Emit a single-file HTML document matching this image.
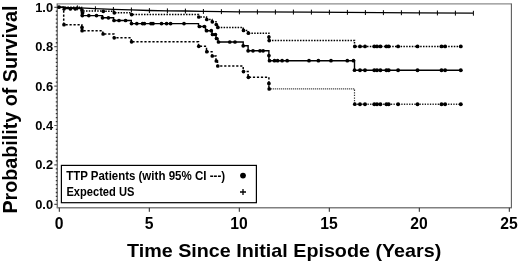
<!DOCTYPE html>
<html><head><meta charset="utf-8"><title>Survival</title>
<style>
html,body{margin:0;padding:0;background:#fff}
svg{display:block;font-family:"Liberation Sans",Arial,sans-serif;font-weight:bold;fill:#000}
</style></head>
<body>
<svg width="520" height="264" viewBox="0 0 520 264">
<rect width="520" height="264" fill="#fff"/>
<path d="M56.699999999999996,3.8H511.9" stroke="#8c8c8c" stroke-width="1.3" fill="none"/>
<path d="M56.699999999999996,207.8H511.9" stroke="#808080" stroke-width="1.4" fill="none"/>
<path d="M57.3,3.8V207.8" stroke="#787878" stroke-width="1.4" fill="none"/>
<path d="M511.4,3.8V207.8" stroke="#5c5c5c" stroke-width="1.1" fill="none"/>
<path d="M55.8,200.36H57.3M55.8,196.42H57.3M55.8,192.48H57.3M55.8,188.54H57.3M55.8,184.60H57.3M55.8,180.66H57.3M55.8,176.72H57.3M55.8,172.78H57.3M55.8,168.84H57.3M55.8,160.96H57.3M55.8,157.02H57.3M55.8,153.08H57.3M55.8,149.14H57.3M55.8,145.20H57.3M55.8,141.26H57.3M55.8,137.32H57.3M55.8,133.38H57.3M55.8,129.44H57.3M55.8,121.56H57.3M55.8,117.62H57.3M55.8,113.68H57.3M55.8,109.74H57.3M55.8,105.80H57.3M55.8,101.86H57.3M55.8,97.92H57.3M55.8,93.98H57.3M55.8,90.04H57.3M55.8,82.16H57.3M55.8,78.22H57.3M55.8,74.28H57.3M55.8,70.34H57.3M55.8,66.40H57.3M55.8,62.46H57.3M55.8,58.52H57.3M55.8,54.58H57.3M55.8,50.64H57.3M55.8,42.76H57.3M55.8,38.82H57.3M55.8,34.88H57.3M55.8,30.94H57.3M55.8,27.00H57.3M55.8,23.06H57.3M55.8,19.12H57.3M55.8,15.18H57.3M55.8,11.24H57.3" stroke="#333" stroke-width="1.3" fill="none"/>
<path d="M54.3,204.30H57.3M54.3,164.90H57.3M54.3,125.50H57.3M54.3,86.10H57.3M54.3,46.70H57.3M54.3,7.30H57.3" stroke="#555" stroke-width="1.2" fill="none"/>
<path d="M59.3,207.8v4M149.3,207.8v4M239.3,207.8v4M329.3,207.8v4M419.3,207.8v4M509.3,207.8v4" stroke="#222" stroke-width="1" fill="none"/>
<g font-size="13.7"><text x="35.2" y="208.7" textLength="17.9" lengthAdjust="spacingAndGlyphs">0.0</text><text x="35.2" y="169.3" textLength="17.9" lengthAdjust="spacingAndGlyphs">0.2</text><text x="35.2" y="129.9" textLength="17.9" lengthAdjust="spacingAndGlyphs">0.4</text><text x="35.2" y="90.5" textLength="17.9" lengthAdjust="spacingAndGlyphs">0.6</text><text x="35.2" y="51.1" textLength="17.9" lengthAdjust="spacingAndGlyphs">0.8</text><text x="35.2" y="11.7" textLength="17.9" lengthAdjust="spacingAndGlyphs">1.0</text></g>
<g font-size="15.7"><text x="59.0" y="229.2" text-anchor="middle">0</text><text x="149.0" y="229.2" text-anchor="middle">5</text><text x="239.0" y="229.2" text-anchor="middle">10</text><text x="329.0" y="229.2" text-anchor="middle">15</text><text x="419.0" y="229.2" text-anchor="middle">20</text><text x="509.0" y="229.2" text-anchor="middle">25</text></g>
<text font-size="18.6" x="127.0" y="256.8" textLength="314.2" lengthAdjust="spacingAndGlyphs">Time Since Initial Episode (Years)</text>
<text font-size="19.6" transform="translate(16.5,213.6) rotate(-90)" textLength="208" lengthAdjust="spacingAndGlyphs">Probability of Survival</text>
<path d="M59.0,7.3 L80.0,7.9 L95.0,8.7 L113.0,9.4 L131.0,9.9 L149.0,10.5 L167.0,10.8 L185.0,11.0 L203.0,11.4 L239.0,11.8 L309.0,12.1 L416.0,12.8 L473.0,13.2" stroke="#000" stroke-width="1.3" fill="none"/>
<path d="M77.4,5.4v4.9M95.4,6.3v4.9M113.4,7.0v4.9M131.4,7.5v4.9M149.4,8.1v4.9M167.4,8.4v4.9M185.4,8.6v4.9M203.4,9.0v4.9M221.4,9.2v4.9M239.4,9.4v4.9M257.4,9.5v4.9M275.4,9.6v4.9M293.4,9.6v4.9M311.4,9.7v4.9M329.4,9.8v4.9M347.4,9.9v4.9M365.4,10.1v4.9M383.4,10.2v4.9M401.4,10.3v4.9M419.4,10.4v4.9M437.4,10.5v4.9M455.4,10.7v4.9M473.4,10.8v4.9" stroke="#000" stroke-width="1" fill="none"/>
<path d="M59.0,7.2H81.5V11.0H103.0V11.3H114.0V12.8H131.3V14.6H198.5V17.0H206.5V19.5H212.0V21.8H216.0V24.5H217.5V27.4H243.2V30.4H248.1V33.2H268.9V40.6H354.5V46.4H461.0" stroke="#000" stroke-width="1.5" stroke-dasharray="1.5,1.3" fill="none"/>
<path d="M59.0,7.2H63.7V24.7H81.8V30.7H102.8V34.0H113.9V37.8H131.3V41.8H198.5V46.3H206.5V51.7H212.0V56.0H216.0V61.0H217.5V66.0H243.2V71.6H248.1V77.3H268.9V88.9" stroke="#000" stroke-width="1.5" stroke-dasharray="2.2,1.8" fill="none"/>
<path d="M269.2,88.9H354.5" stroke="#222" stroke-width="1.3" stroke-dasharray="1,1" fill="none"/>
<path d="M354.5,89.6V104.2" stroke="#333" stroke-width="1.2" stroke-dasharray="1.3,1.3" fill="none"/>
<path d="M354.5,104.2H461.0" stroke="#222" stroke-width="1.4" stroke-dasharray="1.3,1.3" fill="none"/>
<path d="M59.0,7.2H64.0V8.6H81.5V15.6H102.5V17.8H113.6V20.5H131.3V23.6H198.5V26.5H205.5V30.7H212.0V34.5H216.0V38.5H218.0V42.0H243.2V45.8H248.1V50.8H268.9V60.7H354.5V70.2H461.0" stroke="#000" stroke-width="1.4" fill="none"/>
<g><circle cx="59.0" cy="7.2" r="1.85"/><circle cx="64.0" cy="9.2" r="1.6"/><circle cx="70.4" cy="9.2" r="1.6"/><circle cx="75.3" cy="9.2" r="1.6"/><circle cx="82.3" cy="15.6" r="1.85"/><circle cx="88.8" cy="15.6" r="1.85"/><circle cx="96.5" cy="15.6" r="1.85"/><circle cx="102.5" cy="17.8" r="1.85"/><circle cx="108.4" cy="17.8" r="1.85"/><circle cx="114.0" cy="20.5" r="1.85"/><circle cx="119.0" cy="20.5" r="1.85"/><circle cx="125.6" cy="20.5" r="1.85"/><circle cx="131.5" cy="23.6" r="1.85"/><circle cx="136.8" cy="23.6" r="1.85"/><circle cx="142.6" cy="23.6" r="1.85"/><circle cx="144.4" cy="23.6" r="1.85"/><circle cx="151.0" cy="23.6" r="1.85"/><circle cx="153.0" cy="23.6" r="1.85"/><circle cx="161.5" cy="23.6" r="1.85"/><circle cx="166.6" cy="23.6" r="1.85"/><circle cx="170.6" cy="23.6" r="1.85"/><circle cx="184.0" cy="23.6" r="1.85"/><circle cx="199.4" cy="26.5" r="1.85"/><circle cx="204.4" cy="26.5" r="1.85"/><circle cx="206.6" cy="30.7" r="1.85"/><circle cx="211.3" cy="30.7" r="1.85"/><circle cx="212.5" cy="34.5" r="1.85"/><circle cx="215.4" cy="34.5" r="1.85"/><circle cx="216.5" cy="38.5" r="1.85"/><circle cx="218.5" cy="42.0" r="1.85"/><circle cx="229.8" cy="42.0" r="1.85"/><circle cx="235.0" cy="42.0" r="1.85"/><circle cx="243.2" cy="45.8" r="1.85"/><circle cx="248.1" cy="50.8" r="1.85"/><circle cx="253.0" cy="50.8" r="1.85"/><circle cx="260.0" cy="50.8" r="1.85"/><circle cx="263.1" cy="50.8" r="1.85"/><circle cx="269.5" cy="60.7" r="1.85"/><circle cx="274.5" cy="60.7" r="1.85"/><circle cx="277.6" cy="60.7" r="1.85"/><circle cx="282.1" cy="60.7" r="1.85"/><circle cx="287.2" cy="60.7" r="1.85"/><circle cx="309.0" cy="60.7" r="1.85"/><circle cx="318.4" cy="60.7" r="1.85"/><circle cx="331.0" cy="60.7" r="1.85"/><circle cx="347.3" cy="60.7" r="1.85"/><circle cx="353.5" cy="60.7" r="1.85"/><circle cx="354.5" cy="70.2" r="1.85"/><circle cx="360.0" cy="70.2" r="1.95"/><circle cx="365.0" cy="70.2" r="1.95"/><circle cx="374.3" cy="70.2" r="1.95"/><circle cx="377.0" cy="70.2" r="1.95"/><circle cx="380.4" cy="70.2" r="1.95"/><circle cx="386.4" cy="70.2" r="1.95"/><circle cx="388.7" cy="70.2" r="1.95"/><circle cx="398.1" cy="70.2" r="1.95"/><circle cx="417.5" cy="70.2" r="1.95"/><circle cx="441.5" cy="70.2" r="1.95"/><circle cx="445.1" cy="70.2" r="1.95"/><circle cx="460.8" cy="70.2" r="1.95"/><circle cx="268.9" cy="55.6" r="1.85"/><circle cx="82.0" cy="10.0" r="1.85"/><circle cx="82.6" cy="12.8" r="1.85"/><circle cx="103.3" cy="11.3" r="1.85"/><circle cx="114.3" cy="12.8" r="1.85"/><circle cx="131.6" cy="14.6" r="1.85"/><circle cx="198.8" cy="17.0" r="1.85"/><circle cx="206.8" cy="19.5" r="1.85"/><circle cx="212.3" cy="21.8" r="1.85"/><circle cx="216.3" cy="24.5" r="1.85"/><circle cx="217.8" cy="27.4" r="1.85"/><circle cx="243.5" cy="30.4" r="1.85"/><circle cx="248.4" cy="33.2" r="1.85"/><circle cx="269.2" cy="40.6" r="1.85"/><circle cx="354.8" cy="46.4" r="1.85"/><circle cx="268.9" cy="37.0" r="1.85"/><circle cx="64.0" cy="24.7" r="1.85"/><circle cx="82.1" cy="30.7" r="1.85"/><circle cx="103.1" cy="34.0" r="1.85"/><circle cx="114.2" cy="37.8" r="1.85"/><circle cx="131.6" cy="41.8" r="1.85"/><circle cx="198.8" cy="46.3" r="1.85"/><circle cx="206.8" cy="51.7" r="1.85"/><circle cx="212.3" cy="56.0" r="1.85"/><circle cx="216.3" cy="61.0" r="1.85"/><circle cx="217.8" cy="66.0" r="1.85"/><circle cx="243.5" cy="71.6" r="1.85"/><circle cx="248.4" cy="77.3" r="1.85"/><circle cx="269.2" cy="88.9" r="1.85"/><circle cx="354.8" cy="104.2" r="1.85"/><circle cx="82.0" cy="27.4" r="1.85"/><circle cx="268.9" cy="83.4" r="1.85"/><circle cx="360.0" cy="46.4" r="1.95"/><circle cx="360.0" cy="104.2" r="1.95"/><circle cx="365.0" cy="46.4" r="1.95"/><circle cx="365.0" cy="104.2" r="1.95"/><circle cx="374.3" cy="46.4" r="1.95"/><circle cx="374.3" cy="104.2" r="1.95"/><circle cx="377.0" cy="46.4" r="1.95"/><circle cx="377.0" cy="104.2" r="1.95"/><circle cx="380.4" cy="46.4" r="1.95"/><circle cx="380.4" cy="104.2" r="1.95"/><circle cx="386.4" cy="46.4" r="1.95"/><circle cx="386.4" cy="104.2" r="1.95"/><circle cx="388.7" cy="46.4" r="1.95"/><circle cx="388.7" cy="104.2" r="1.95"/><circle cx="398.1" cy="46.4" r="1.95"/><circle cx="398.1" cy="104.2" r="1.95"/><circle cx="417.5" cy="46.4" r="1.95"/><circle cx="417.5" cy="104.2" r="1.95"/><circle cx="441.5" cy="46.4" r="1.95"/><circle cx="441.5" cy="104.2" r="1.95"/><circle cx="445.1" cy="46.4" r="1.95"/><circle cx="445.1" cy="104.2" r="1.95"/><circle cx="460.8" cy="46.4" r="1.95"/><circle cx="460.8" cy="104.2" r="1.95"/></g>
<rect x="61.4" y="165.4" width="195" height="37.3" fill="#fff" stroke="#000" stroke-width="1.2"/>
<text font-size="12.2" x="66.2" y="180.2" textLength="69.2" lengthAdjust="spacingAndGlyphs">TTP Patients</text>
<text font-size="12.2" x="138.5" y="180.2" textLength="86.6" lengthAdjust="spacingAndGlyphs">(with 95% CI ---)</text>
<text font-size="12.2" x="66.4" y="195.6" textLength="68" lengthAdjust="spacingAndGlyphs">Expected US</text>
<circle cx="243" cy="175.6" r="2.9"/>
<path d="M240,192h6M243,189v6" stroke="#000" stroke-width="1.3" fill="none"/>
</svg>
</body></html>
